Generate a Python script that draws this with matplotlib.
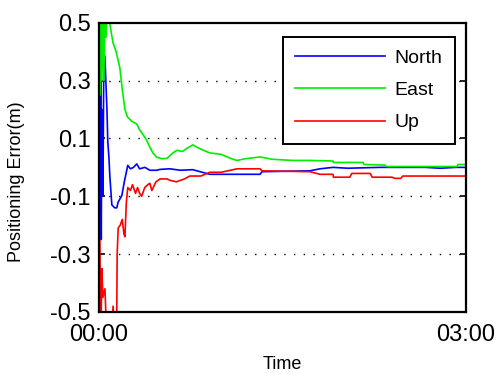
import matplotlib
matplotlib.use("Agg")
import matplotlib.pyplot as plt

# time in minutes, positioning errors in metres
t_east = [0, 0.3, 0.6, 1.0, 1.5, 2.0, 2.5, 3.0, 3.5, 4.5, 5.4, 6, 7, 8.5, 10.3, 11.5, 12.8,
          14, 16, 18.6, 20, 22, 23.5, 25, 26.5, 28.4, 31, 33.4, 36.3, 38.3, 41, 43, 46.1,
          48, 51, 54.4, 60, 65, 67.7, 72, 79, 85, 95, 103.5, 114.8, 115, 129.5, 130, 140,
          141, 175.6, 176, 180]
east = [0.3, 0.6, 0.25, 0.6, 0.3, 0.6, 0.3, 0.6, 0.45, 0.6, 0.5, 0.47, 0.43, 0.40, 0.345,
        0.27, 0.20, 0.175, 0.16, 0.15, 0.13, 0.11, 0.093, 0.07, 0.05, 0.035, 0.03, 0.031,
        0.05, 0.059, 0.055, 0.065, 0.078, 0.07, 0.06, 0.05, 0.045, 0.03, 0.024, 0.03, 0.036,
        0.028, 0.024, 0.024, 0.022, 0.017, 0.017, 0.01, 0.008, 0.003, 0.003, 0.01, 0.01]

t_north = [0, 0.3, 0.6, 0.9, 1.2, 1.5, 2.0, 2.5, 3.0, 4.0, 4.4, 5.0, 5.4, 6.4, 7.8, 8.8,
           9.5, 10.3, 11.3, 12.5, 13.7, 14.2, 15.5, 17, 18.6, 20, 22.6, 25, 28.4, 30, 34.8,
           40, 46, 54.4, 79, 80, 103.5, 108.4, 114.8, 122, 137.8, 160, 167.3, 175, 180]
north = [-0.25, 0.45, -0.2, 0.3, -0.25, 0.2, -0.1, 0.4, 0.38, 0.2, 0.09, 0.03, -0.03,
         -0.13, -0.14, -0.14, -0.12, -0.11, -0.097, -0.05, -0.01, 0.007, -0.005, 0.0, 0.012,
         -0.005, 0.0, -0.01, -0.01, -0.007, -0.005, -0.01, -0.008, -0.024, -0.024, -0.015,
         -0.012, -0.005, 0.0, -0.003, 0.0, 0.0, -0.003, 0.0, 0.0]

t_up = [0, 0.5, 1, 1.5, 2, 3, 4, 5, 6, 7, 8, 8.8, 9, 9.5, 10.5, 11.5, 12.3, 12.8, 13.5,
        14.2, 15.5, 16.5, 18, 19, 20, 21, 22.5, 24, 25, 26, 28, 30, 33.4, 35, 38, 42, 44.6,
        50, 54.4, 60, 67.7, 79, 80, 103.5, 108.4, 114.8, 115, 123, 124, 133, 134, 143.7,
        145, 148, 149, 180]
up = [-0.5, -0.25, -0.6, -0.35, -0.45, -0.42, -0.6, -0.6, -0.6, -0.48, -0.6, -0.5, -0.3,
      -0.21, -0.20, -0.18, -0.23, -0.24, -0.12, -0.07, -0.08, -0.06, -0.09, -0.07, -0.09,
      -0.1, -0.07, -0.06, -0.055, -0.08, -0.05, -0.04, -0.04, -0.045, -0.05, -0.04, -0.03,
      -0.03, -0.017, -0.017, -0.005, -0.005, -0.012, -0.015, -0.024, -0.024, -0.034, -0.034,
      -0.021, -0.021, -0.034, -0.034, -0.038, -0.038, -0.03, -0.03]

y_ticks = [-0.5, -0.3, -0.1, 0.1, 0.3, 0.5]
x_ticks = [0, 180]
x_labels = ["00:00", "03:00"]

plt.rcParams["font.family"] = ["Liberation Sans", "DejaVu Sans"]

fig = plt.figure(figsize=(4.99, 3.74), dpi=100)
ax = fig.add_axes([0.198, 0.166, 0.736, 0.773])

ax.plot(t_north, north, color="#0000ff", lw=1.2, label="North")
ax.plot(t_east, east, color="#00ee00", lw=1.2, label="East")
ax.plot(t_up, up, color="#ff0000", lw=1.2, label="Up")

ax.set_xlim(0, 180)
ax.set_ylim(-0.5, 0.5)
ax.set_yticks(y_ticks)
ax.set_yticklabels([f"{v:g}" for v in y_ticks])
ax.set_xticks(x_ticks)
ax.set_xticklabels(x_labels)
ax.tick_params(direction="in", labelsize=17, length=4, width=1.2,
               right=True, top=True)
ax.tick_params(axis="y", pad=6)
ax.tick_params(axis="x", pad=9)

for v in [-0.3, -0.1, 0.1, 0.3]:
    ax.axhline(v, color="black", lw=1.0, ls=(0, (1, 6)), zorder=0)

for s in ax.spines.values():
    s.set_linewidth(1.6)

ax.set_xlabel("Time", fontsize=13, labelpad=7)
ax.set_ylabel("Positioning Error(m)", fontsize=13)
ax.yaxis.set_label_coords(-0.2, 0.45)

leg = ax.legend(loc="upper right", bbox_to_anchor=(0.97, 0.952), borderaxespad=0,
                fontsize=14, fancybox=False, edgecolor="black", framealpha=1,
                handlelength=4.6, borderpad=0.65, labelspacing=0.75, handletextpad=0.5)
leg.get_frame().set_linewidth(1.4)

fig.savefig("out.png", dpi=100)
